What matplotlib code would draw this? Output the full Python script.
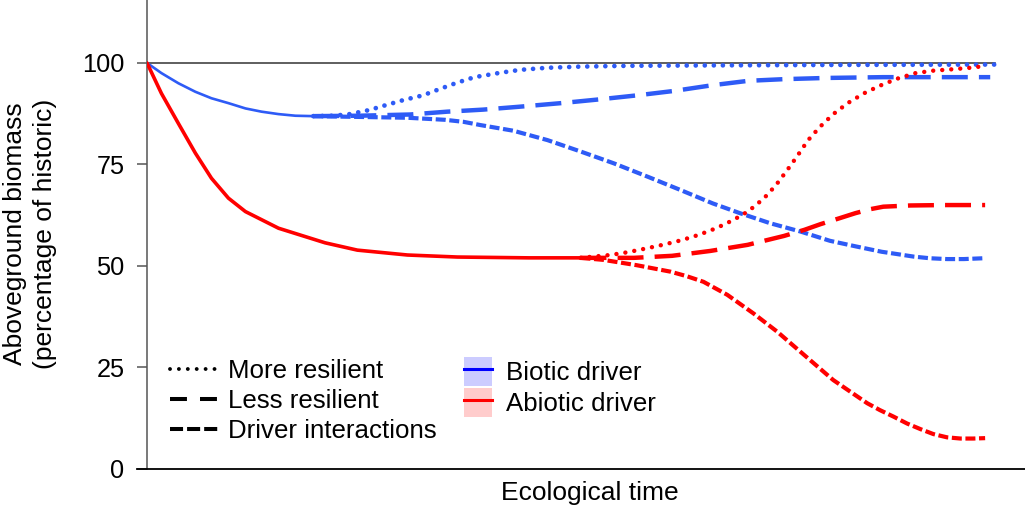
import matplotlib
matplotlib.use("Agg")
import matplotlib.pyplot as plt
from matplotlib.lines import Line2D
from matplotlib.patches import Rectangle

plt.rcParams['font.family'] = ['Liberation Sans', 'DejaVu Sans']
plt.rcParams['lines.scale_dashes'] = False

# ---------------- data (ecological time 0-100, biomass % of historic) ----------------
blue_base_t = [0, 1.7, 3.7, 5.7, 7.6, 9.6, 11.6, 13.5, 15.5, 17.5, 19.6]
blue_base_v = [100, 97.5, 95.0, 92.9, 91.3, 90.1, 88.8, 88.0, 87.4, 87.0, 86.9]

red_base_t = [0, 1.7, 3.7, 5.7, 7.6, 9.6, 11.6, 15.5, 21.0, 24.8, 30.7, 36.6, 45.0, 51.1]
red_base_v = [100, 92.5, 85.1, 77.8, 71.6, 66.7, 63.4, 59.3, 55.7, 53.9, 52.7, 52.2, 52.0, 52.0]

blue_more_t = [19.6, 22.0, 23.9, 26.2, 28.3, 30.3, 32.5, 34.4, 36.5, 38.6, 41.7, 44.0,
               47.1, 51.1, 56.9, 66.8, 80.0, 100.0]
blue_more_v = [86.9, 87.0, 87.4, 88.4, 89.7, 90.9, 92.0, 93.5, 95.1, 96.5, 97.6, 98.3,
               98.8, 99.1, 99.3, 99.4, 99.5, 99.6]

blue_less_t = [19.6, 25.0, 31.0, 35.4, 39.6, 43.8, 48.8, 53.2, 57.7, 62.1, 66.6, 70.9,
               75.0, 80.0, 86.8, 93.0, 99.4]
blue_less_v = [86.9, 87.0, 87.3, 88.0, 88.5, 89.2, 90.1, 91.0, 92.0, 93.1, 94.5, 95.6,
               96.0, 96.3, 96.5, 96.5, 96.5]

blue_int_t = [19.6, 25.1, 30.7, 35.1, 37.3, 39.3, 43.2, 47.2, 51.1, 55.0, 59.0, 62.9, 66.7,
              69.9, 73.5, 77.0, 80.5, 83.6, 86.6, 88.2, 90.4, 92.3, 94.3, 96.3, 98.6]
blue_int_v = [86.9, 86.7, 86.5, 86.0, 85.5, 84.7, 83.3, 81.0, 78.2, 75.3, 72.0, 68.7, 65.4,
              63.0, 60.5, 58.5, 56.2, 54.8, 53.5, 53.0, 52.3, 51.9, 51.7, 51.7, 51.9]

red_more_t = [51.1, 54.6, 56.7, 58.8, 61.0, 63.1, 65.1, 67.1, 69.1, 70.9, 72.7, 74.1, 75.4,
              76.6, 77.9, 79.3, 80.9, 82.6, 84.5, 86.4, 88.4, 90.6, 92.7, 94.7, 97.0, 99.0]
red_more_v = [52.0, 52.7, 53.4, 54.3, 55.3, 56.4, 57.7, 59.3, 61.3, 63.5, 66.6, 69.8, 73.4,
              76.9, 80.9, 84.2, 87.4, 90.1, 92.5, 94.4, 96.1, 97.5, 98.1, 98.4, 98.8, 99.3]

red_less_t = [51.1, 57.4, 61.9, 66.4, 70.8, 75.1, 77.5, 79.4, 81.7, 83.5, 85.3, 86.8,
              90.0, 94.0, 98.8]
red_less_v = [52.0, 52.0, 52.5, 53.7, 55.2, 57.4, 58.9, 60.3, 61.8, 63.0, 64.0, 64.6,
              64.9, 65.0, 65.0]

red_int_t = [51.1, 53.8, 57.7, 61.7, 63.6, 65.6, 68.4, 71.5, 74.3, 77.9, 80.9, 84.9, 86.4,
             88.0, 89.6, 91.2, 92.7, 94.3, 95.9, 97.4, 98.8]
red_int_v = [52.0, 51.5, 50.2, 48.6, 47.5, 46.1, 42.9, 38.3, 33.8, 27.3, 21.9, 16.2, 14.5,
             12.9, 11.2, 9.8, 8.6, 7.8, 7.5, 7.5, 7.6]

y_ticks = [0, 25, 50, 75, 100]
style_labels = ['More resilient', 'Less resilient', 'Driver interactions']
driver_labels = ['Biotic driver', 'Abiotic driver']
x_label = 'Ecological time'
y_label = 'Aboveground biomass\n(percentage of historic)'

# ---------------- styling ----------------
BLUE = '#2E5BF6'
RED = '#FF0000'
DOT = (0, (0.01, 6.5))
LONG = (0, (18.7, 8.0))
SHORT = (0, (7.2, 2.6))

fig = plt.figure(figsize=(10.25, 5.08), dpi=100)
ax = fig.add_axes([147 / 1025, 1 - 469 / 508, (1025 - 147) / 1025, 469 / 508])
ax.set_xlim(0, 103.5)
ax.set_ylim(0, 115.5)

ax.plot([0, 100], [100, 100], color='#333333', lw=1.1, zorder=1)

ax.plot(blue_base_t, blue_base_v, color=BLUE, lw=1.9, solid_capstyle='round',
        solid_joinstyle='round', zorder=3)
ax.plot(red_base_t, red_base_v, color=RED, lw=2.6, solid_capstyle='round',
        solid_joinstyle='round', zorder=3)

ax.plot(blue_more_t, blue_more_v, color=BLUE, lw=3.4, linestyle=DOT, dash_capstyle='round', zorder=3)
ax.plot(blue_less_t, blue_less_v, color=BLUE, lw=3.2, linestyle=LONG, dash_capstyle='butt', zorder=3)
ax.plot(blue_int_t, blue_int_v, color=BLUE, lw=3.0, linestyle=SHORT, dash_capstyle='butt', zorder=3)

ax.plot(red_more_t, red_more_v, color=RED, lw=3.2, linestyle=DOT, dash_capstyle='round', zorder=3)
ax.plot(red_less_t, red_less_v, color=RED, lw=3.2, linestyle=LONG, dash_capstyle='butt', zorder=3)
ax.plot(red_int_t, red_int_v, color=RED, lw=3.0, linestyle=SHORT, dash_capstyle='butt', zorder=3)

# axes cosmetics
for s in ['top', 'right']:
    ax.spines[s].set_visible(False)
ax.spines['left'].set_color('#555555')
ax.spines['left'].set_linewidth(1.1)
ax.spines['bottom'].set_color('black')
ax.spines['bottom'].set_linewidth(1.3)
ax.spines['bottom'].set_bounds(-1.2, 103.5)
ax.spines['bottom'].set_clip_on(False)
ax.set_xticks([])
ax.set_yticks(y_ticks)
ax.set_yticklabels([str(v) for v in y_ticks])
ax.tick_params(axis='y', direction='out', length=7.2, width=1.1, color='#555555',
               pad=9, labelsize=18.3, labelcolor='black')

fig.text(30 / 1025, 1 - 234 / 508, y_label, rotation=90, ha='center', va='center',
         multialignment='center', fontsize=19, linespacing=1.3)
fig.text(590 / 1025, 1 - 493 / 508, x_label, ha='center', va='center', fontsize=19)

# legend of line styles
style_handles = [
    Line2D([], [], color='black', lw=2.8, linestyle=(0, (0.01, 6.4)), dash_capstyle='round'),
    Line2D([], [], color='black', lw=2.9, linestyle=(0, (12.2, 9.4)), dash_capstyle='butt'),
    Line2D([], [], color='black', lw=2.9, linestyle=(0, (9.4, 2.9)), dash_capstyle='butt'),
]
leg1 = fig.legend(style_handles, style_labels, loc='upper left',
                  bbox_to_anchor=(170 / 1025, 1 - 359 / 508), bbox_transform=fig.transFigure,
                  frameon=False, borderpad=0, borderaxespad=0, fontsize=18.6,
                  handlelength=1.85, handletextpad=0.4, labelspacing=0.24)

# legend of drivers
driver_handles = [
    (Rectangle((0, 0), 1, 1, facecolor='#ccccff', edgecolor='none'),
     Line2D([], [], color='#0000ff', lw=2.2)),
    (Rectangle((0, 0), 1, 1, facecolor='#ffcccc', edgecolor='none'),
     Line2D([], [], color='#ff0000', lw=2.2)),
]
leg2 = fig.legend(driver_handles, driver_labels, loc='upper left',
                  bbox_to_anchor=(464 / 1025, 1 - 357 / 508), bbox_transform=fig.transFigure,
                  frameon=False, borderpad=0, borderaxespad=0, fontsize=18.6,
                  handlelength=1.1, handleheight=1.35, handletextpad=0.52, labelspacing=0.08)

fig.savefig('out.png', dpi=100)
